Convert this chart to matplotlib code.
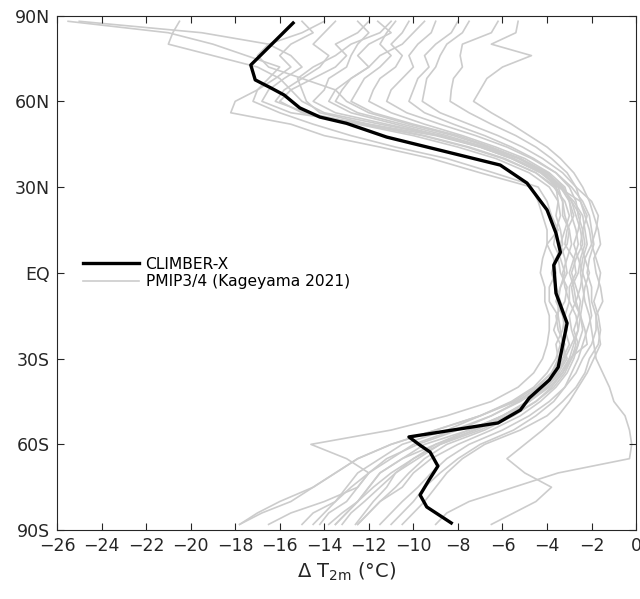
import matplotlib.pyplot as plt

# latitude grid for the PMIP3/4 model curves
lat = [88, 84, 80, 76, 72, 68, 64, 60, 56, 52, 48, 44, 40, 35,
       30, 25, 20, 15, 10, 5, 0, -5, -10, -15, -20, -25, -30,
       -35, -40, -45, -50, -55, -60, -65, -70, -75, -80, -84, -88]

m01 = [-25.5, -21.0, -19.0, -17.5, -16.0, -16.5, -17.0, -17.2, -16.0, -14.5, -12.8, -10.8, -8.5, -6.4,
       -4.4, -4.0, -3.8, -3.5, -4.0, -3.7, -3.6, -3.9, -3.9, -3.5, -3.7, -3.4, -3.6,
       -4.0, -4.6, -5.6, -7.0, -9.0, -11.0, -12.5, -13.5, -14.5, -16.0, -17.0, -17.8]
m02 = [-25.0, -19.5, -16.5, -15.5, -15.0, -15.8, -16.5, -16.8, -15.5, -12.0, -9.0, -7.0, -5.5, -4.2,
       -3.6, -3.3, -3.3, -3.0, -3.1, -3.5, -3.4, -3.1, -3.2, -3.6, -3.5, -3.2, -3.4,
       -3.8, -4.5, -5.5, -7.0, -8.5, -10.5, -11.5, -12.5, -13.0, -13.5, -14.5, -15.0]
m03 = [-20.5, -20.8, -21.0, -19.0, -17.0, -16.0, -15.5, -15.0, -14.0, -11.5, -8.8, -6.8, -5.2, -4.0,
       -3.4, -3.0, -2.8, -3.1, -3.2, -2.8, -2.7, -3.0, -3.0, -2.7, -2.6, -2.9, -3.2,
       -3.5, -4.0, -4.8, -6.0, -7.5, -9.5, -10.5, -11.5, -12.0, -12.5, -13.0, -13.5]
m04 = [-5.3, -5.4, -6.5, -4.7, -6.0, -6.7, -7.0, -7.3, -6.5, -5.6, -4.8, -4.0, -3.4, -2.8,
       -2.4, -2.1, -1.9, -1.7, -1.6, -1.9, -1.8, -1.6, -1.5, -1.8, -1.7, -1.6, -1.9,
       -2.2, -2.6, -3.0, -3.5, -4.2, -5.0, -5.8, -5.0, -3.8, -4.5, -5.5, -6.5]
m05 = [-6.2, -6.5, -7.8, -7.9, -7.8, -8.2, -8.3, -8.35, -7.5, -6.5, -5.4, -4.5, -3.8, -3.1,
       -2.7, -2.5, -2.3, -2.1, -2.0, -2.3, -2.4, -2.2, -2.1, -2.0, -2.2, -2.4, -2.6,
       -2.9, -3.2, -3.7, -4.5, -5.5, -7.0, -8.0, -8.8, -9.5, -10.0, -10.5, -11.0]
m06 = [-8.0, -8.3, -9.0, -9.5, -9.3, -9.8, -10.0, -10.2, -9.5, -8.2, -6.8, -5.6, -4.6, -3.6,
       -3.0, -2.7, -2.6, -2.4, -2.3, -2.5, -2.6, -2.9, -2.8, -2.5, -2.4, -2.6, -2.8,
       -3.1, -3.6, -4.3, -5.2, -6.5, -8.0, -9.2, -10.0, -10.5, -11.5, -12.0, -12.5]
m07 = [-10.2, -10.5, -11.0, -10.5, -10.8, -11.5, -11.8, -12.0, -11.0, -9.5, -7.8, -6.3, -5.0, -3.9,
       -3.2, -3.0, -2.9, -2.7, -2.6, -2.8, -3.0, -2.8, -2.7, -3.0, -2.9, -2.7, -2.9,
       -3.3, -3.9, -4.8, -6.0, -7.5, -9.0, -10.5, -11.5, -12.0, -12.5, -13.0, -13.5]
m08 = [-11.6, -11.0, -12.0, -12.5, -12.0, -12.8, -13.5, -13.8, -12.8, -10.8, -8.8, -7.0, -5.6, -4.3,
       -3.5, -3.3, -3.2, -3.0, -2.9, -3.1, -3.3, -3.2, -3.0, -3.2, -3.1, -3.3, -3.1,
       -3.5, -4.2, -5.2, -6.5, -8.0, -9.8, -11.2, -12.0, -12.8, -13.5, -14.0, -14.5]
m09 = [-12.0, -12.5, -13.5, -13.0, -13.5, -14.5, -15.5, -16.0, -15.0, -12.5, -10.0, -8.0, -6.3, -4.8,
       -3.9, -3.5, -3.6, -3.4, -3.3, -3.6, -3.8, -3.6, -3.4, -3.2, -3.3, -3.6, -3.5,
       -3.8, -4.4, -5.3, -6.5, -8.2, -10.0, -11.0, -12.0, -12.5, -13.0, -13.8, -14.2]
m10 = [-15.0, -14.5, -15.5, -16.0, -15.5, -16.2, -17.0, -18.0, -18.2, -15.5, -14.0, -11.5, -9.2, -7.0,
       -4.7, -4.4, -4.2, -4.0, -4.0, -4.2, -4.3, -4.1, -4.1, -3.9, -3.9, -4.0, -4.2,
       -4.6, -5.3, -6.5, -8.5, -11.0, -14.6, -13.0, -12.0, -12.5, -14.0, -15.5, -16.5]
m11 = [-9.0, -9.2, -9.8, -10.2, -10.0, -10.5, -11.0, -11.2, -10.3, -8.8, -7.2, -5.8, -4.7, -3.6,
       -2.9, -2.4, -2.1, -2.0, -1.9, -2.1, -2.2, -2.0, -2.0, -1.8, -1.8, -2.0, -2.4,
       -2.7, -3.2, -3.9, -4.8, -6.0, -7.5, -8.5, -9.2, -9.8, -10.5, -11.0, -11.5]
m12 = [-13.5, -14.0, -14.5, -13.8, -14.2, -15.0, -15.8, -16.2, -14.8, -12.3, -9.6, -7.6, -6.0, -4.5,
       -3.7, -3.2, -3.0, -3.2, -3.4, -3.2, -3.1, -3.4, -3.6, -3.3, -3.2, -3.0, -3.3,
       -3.6, -4.1, -4.9, -6.0, -7.3, -8.8, -10.0, -11.0, -11.8, -12.5, -13.2, -13.8]
m13 = [-10.8, -11.2, -11.5, -11.0, -11.5, -12.2, -12.5, -12.8, -11.8, -10.0, -8.0, -6.5, -5.2, -4.0,
       -3.3, -2.9, -2.5, -2.6, -2.8, -2.6, -2.4, -2.5, -2.7, -2.5, -2.6, -2.8, -3.0,
       -3.3, -3.8, -4.5, -5.5, -6.8, -8.5, -9.5, -10.2, -10.8, -11.5, -12.0, -12.5]
m14 = [-12.5, -12.0, -12.5, -12.8, -13.0, -13.8, -14.0, -14.5, -13.5, -11.2, -8.8, -7.0, -5.6, -4.2,
       -3.4, -2.8, -2.4, -2.3, -2.2, -2.4, -2.5, -2.4, -2.3, -2.1, -2.0, -1.9, -1.8,
       -1.5, -1.2, -1.0, -0.5, -0.3, -0.2, -0.3, -3.5, -5.5, -7.5, -8.5, -9.0]
m15 = [-7.5, -7.8, -8.5, -8.8, -9.0, -9.4, -9.5, -9.6, -8.8, -7.5, -6.2, -5.1, -4.2, -3.3,
       -2.7, -2.0, -1.7, -1.8, -2.0, -1.8, -1.6, -1.7, -1.9, -1.7, -1.6, -1.7, -2.1,
       -2.3, -2.7, -3.3, -4.0, -5.2, -6.8, -7.8, -8.5, -9.0, -9.5, -10.0, -10.5]
m16 = [-14.0, -15.0, -16.5, -17.0, -16.5, -15.0, -13.5, -13.0, -12.0, -10.2, -8.2, -6.6, -5.3, -4.1,
       -3.3, -2.9, -2.7, -2.5, -2.4, -2.7, -2.9, -2.7, -2.5, -2.6, -2.8, -2.6, -2.9,
       -3.2, -3.7, -4.5, -5.6, -7.0, -8.8, -9.8, -10.8, -11.5, -12.2, -12.8, -13.2]
m17 = [-11.0, -11.5, -12.8, -13.5, -14.5, -15.2, -15.0, -14.8, -14.2, -12.0, -9.5, -7.5, -5.9, -4.5,
       -3.6, -3.5, -3.4, -3.6, -3.7, -3.4, -3.2, -3.4, -3.5, -3.5, -3.4, -3.3, -3.2,
       -3.6, -4.3, -5.4, -7.0, -9.0, -11.0, -12.5, -13.5, -14.5, -15.5, -16.8, -17.8]
m18 = [-9.5, -10.0, -10.5, -11.5, -12.0, -12.8, -13.2, -13.5, -12.5, -10.5, -8.5, -6.8, -5.5, -4.2,
       -3.5, -2.5, -2.2, -2.4, -2.5, -2.3, -2.1, -2.3, -2.4, -2.5, -2.3, -2.2, -3.0,
       -3.4, -4.0, -4.8, -5.8, -7.2, -9.0, -10.0, -10.8, -11.2, -11.8, -12.2, -12.6]

pmip = [m01, m02, m03, m04, m05, m06, m07, m08, m09, m10, m11, m12, m13, m14, m15, m16, m17, m18]

# CLIMBER-X zonal mean anomaly
climber_lat = [87.4, 72.7, 67.5, 64.7, 62.2, 57.7, 54.5, 52.3, 47.5, 37.7, 31.4, 22.0, 13.9, 7.2, 2.7,
               -7.1, -17.6, -33.0, -37.5, -43.8, -48.0, -52.5, -57.4, -60.3, -62.7, -67.6, -72.5, -77.7, -81.9, -87.5]
climber_dt = [-15.4, -17.3, -17.1, -16.4, -15.8, -15.1, -14.2, -13.0, -11.2, -6.1, -4.9, -4.0, -3.6, -3.4, -3.7,
              -3.6, -3.1, -3.5, -3.9, -4.8, -5.2, -6.2, -10.2, -9.7, -9.25, -8.9, -9.3, -9.7, -9.4, -8.3]

plt.rcParams['font.family'] = ['DejaVu Sans']
plt.rcParams['mathtext.default'] = 'regular'
fig = plt.figure(figsize=(6.4, 5.99), dpi=100)
ax = fig.add_axes([0.089, 0.115, 0.905, 0.859])

grey = '#cccccc'
for i, m in enumerate(pmip):
    ax.plot(m, lat, color=grey, lw=1.2, label='PMIP3/4 (Kageyama 2021)' if i == 0 else None, zorder=1)
ax.plot(climber_dt, climber_lat, color='black', lw=2.4, label='CLIMBER-X', zorder=3)

ax.set_xlim(-26, 0)
ax.set_ylim(-90, 90)
ax.set_xticks(range(-26, 1, 2))
ax.set_yticks([-90, -60, -30, 0, 30, 60, 90])
ax.set_yticklabels(['90S', '60S', '30S', 'EQ', '30N', '60N', '90N'])
ax.tick_params(direction='in', top=True, right=True, length=5, width=0.8,
               labelsize=12.5, colors='#262626', pad=5)
for s in ax.spines.values():
    s.set_color('#262626')
    s.set_linewidth(0.8)
ax.set_xlabel(r'Δ T$_{2m}$ (°C)', fontsize=14, color='#262626', labelpad=4)

# legend: CLIMBER-X first
h, l = ax.get_legend_handles_labels()
ax.legend(h[::-1], l[::-1], loc='center left', bbox_to_anchor=(0.02, 0.5), frameon=False,
          fontsize=11.2, handlelength=3.6, handletextpad=0.45, labelspacing=0.15)

fig.savefig('out.png', dpi=100)
